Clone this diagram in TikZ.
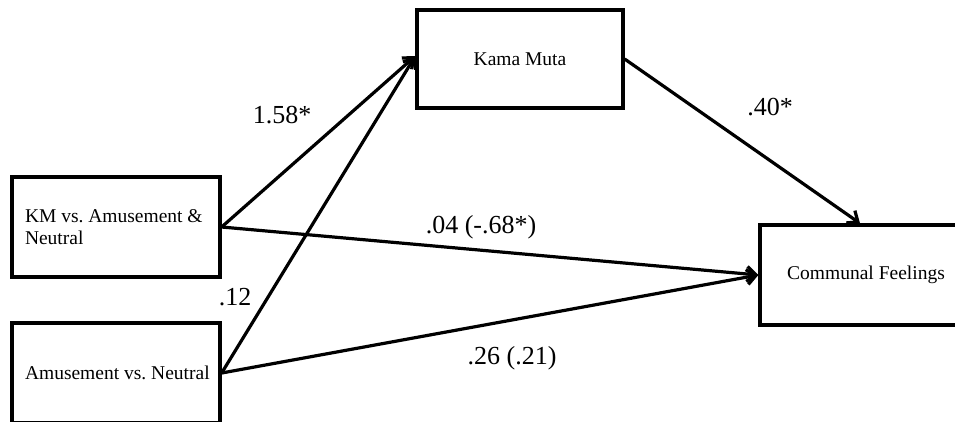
\documentclass[tikz,border=0pt]{standalone}
\usepackage{fontspec}
\setmainfont{Liberation Serif}
\usetikzlibrary{arrows.meta}
\frenchspacing
\begin{document}
\begin{tikzpicture}[x=1pt,y=-1pt,
  box/.style={draw, line width=3.3pt, rectangle, inner sep=0pt, font=\fontsize{19.5}{22}\selectfont},
  leftbox/.style={box, minimum width=208pt, minimum height=100pt, text width=182pt, align=flush left},
  arr/.style={line width=3.2pt, -{Straight Barb[length=9pt,width=15pt,line width=3.2pt]}},
  coef/.style={font=\fontsize{26}{30}\selectfont, inner sep=0pt}]
\useasboundingbox (0,0) rectangle (955,421);
\clip (0,0) rectangle (955,421);
\fill[white] (0,0) rectangle (955,421);
% boxes
\node[leftbox] (km) at (116,227) {\mbox{KM vs. Amusement \&}\\Neutral};
\node[leftbox] (amu) at (116,373) {\mbox{Amusement vs. Neutral}};
\node[box, minimum width=206pt, minimum height=98pt] (kama) at (520,59) {Kama Muta};
\node[box, minimum width=212pt, minimum height=100pt] (comm) at (866,275) {Communal Feelings};
% paths
\draw[arr] (km.east) -- ([yshift=3pt]kama.west);
\draw[arr] (amu.east) -- ([yshift=3pt]kama.west);
\draw[arr] (kama.east) -- ([xshift=-6pt]comm.north);
\draw[arr] (km.east) -- (comm.west);
\draw[arr] (amu.east) -- (comm.west);
% coefficients
\node[coef] (c1) at (282,115) {1.58*};
\node[coef] (c2) at (770,107) {.40*};
\node[coef] (c3) at (481,227) {.04 (-.68*)};
\node[coef] (c4) at (235,297) {.12};
\node[coef] (c5) at (512,358) {.26 (.21)};
\end{tikzpicture}
\end{document}
